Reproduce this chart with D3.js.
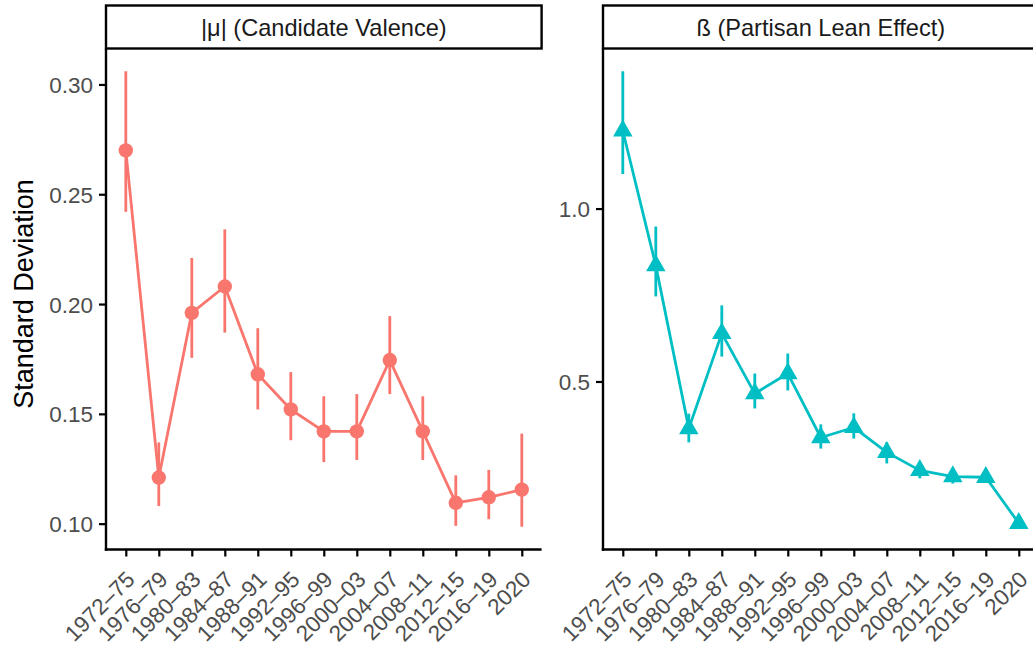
<!DOCTYPE html>
<html>
<head>
<meta charset="utf-8">
<script src="https://cdn.jsdelivr.net/npm/d3@7"></script>
<style>
  html, body { margin: 0; padding: 0; background: #fff; }
  svg { display: block; font-family: "Liberation Sans", Arial, Helvetica, sans-serif; }
</style>
</head>
<body>
<svg id="chart" width="1033" height="645"></svg>
<script>
// ---------------- data ----------------
const categories = ["1972–75","1976–79","1980–83","1984–87","1988–91","1992–95","1996–99","2000–03","2004–07","2008–11","2012–15","2016–19","2020"];

const valenceTitle = "|μ| (Candidate Valence)";
const valenceSD    = [0.270, 0.121, 0.196, 0.208, 0.168, 0.152, 0.142, 0.142, 0.1745, 0.142, 0.1095, 0.112, 0.1155];
const valenceLower = [0.242, 0.108, 0.1755, 0.187, 0.152, 0.138, 0.128, 0.129, 0.159, 0.129, 0.099, 0.102, 0.0986];
const valenceUpper = [0.306, 0.137, 0.221, 0.234, 0.189, 0.169, 0.158, 0.159, 0.1945, 0.158, 0.122, 0.1245, 0.141];
const valenceTicks = [0.10, 0.15, 0.20, 0.25, 0.30];

const leanTitle = "ß (Partisan Lean Effect)";
const leanSD    = [1.225, 0.835, 0.364, 0.639, 0.465, 0.523, 0.338, 0.367, 0.295, 0.243, 0.225, 0.223, 0.090];
const leanLower = [1.100, 0.746, 0.324, 0.572, 0.422, 0.474, 0.306, 0.335, 0.263, 0.220, 0.205, 0.210, 0.080];
const leanUpper = [1.397, 0.948, 0.407, 0.720, 0.523, 0.581, 0.376, 0.408, 0.324, 0.266, 0.246, 0.236, 0.100];
const leanTicks = [0.5, 1.0];

const yAxisTitle = "Standard Deviation";

// ---------------- layout ----------------
const svg = d3.select("#chart");
const plotTop = 48.5, plotBottom = 549.5;
const stripTop = 5.5;
const panelWidth = 435.6;
const tickFont = 22.5, stripFont = 23.6, titleFont = 27;
const axisColor = "#000", tickTextColor = "#4D4D4D";

function drawPanel(opts) {
  const g = svg.append("g");
  const left = opts.left, right = opts.left + panelWidth;
  const x = d3.scalePoint().domain(categories).range([left, right]).padding(0.6);
  const lo = d3.min(opts.lower), hi = d3.max(opts.upper);
  const pad = 0.05 * (hi - lo);
  const y = d3.scaleLinear().domain([lo - pad, hi + pad]).range([plotBottom, plotTop]);

  // strip
  g.append("rect")
    .attr("x", left).attr("y", stripTop)
    .attr("width", panelWidth).attr("height", plotTop - stripTop)
    .attr("fill", "#fff").attr("stroke", "#000").attr("stroke-width", 2.4);
  g.append("text")
    .attr("x", (left + right) / 2).attr("y", (stripTop + plotTop) / 2)
    .attr("dy", "0.38em")
    .attr("text-anchor", "middle")
    .attr("font-size", stripFont).attr("fill", "#1A1A1A")
    .text(opts.title);

  // y axis
  const yAxis = g.append("g")
    .attr("transform", `translate(${left},0)`)
    .call(d3.axisLeft(y).tickValues(opts.ticks).tickFormat(d3.format(opts.fmt)).tickSize(7).tickPadding(6));
  // x axis
  const xAxis = g.append("g")
    .attr("transform", `translate(0,${plotBottom})`)
    .call(d3.axisBottom(x).tickSize(7).tickPadding(3));
  [yAxis, xAxis].forEach(a => {
    a.select(".domain").remove();
    a.selectAll(".tick line").attr("stroke", axisColor).attr("stroke-width", 2.2);
    a.selectAll(".tick text").attr("fill", tickTextColor).attr("font-size", tickFont)
      .attr("font-family", "'Liberation Sans', Arial, sans-serif");
  });
  yAxis.selectAll(".tick text").attr("dy", "0.36em");
  xAxis.selectAll(".tick text")
    .attr("text-anchor", "end")
    .attr("dy", "0.71em")
    .attr("transform", "translate(-1.5,20) rotate(-45)")
    .attr("y", 0).attr("x", 0);
  // axis lines
  g.append("line").attr("x1", left).attr("x2", left).attr("y1", plotTop).attr("y2", plotBottom + 1.2)
    .attr("stroke", axisColor).attr("stroke-width", 2.4);
  g.append("line").attr("x1", left - 1.2).attr("x2", right).attr("y1", plotBottom).attr("y2", plotBottom)
    .attr("stroke", axisColor).attr("stroke-width", 2.4);

  // error bars
  g.append("g").selectAll("line").data(categories).join("line")
    .attr("x1", d => x(d)).attr("x2", d => x(d))
    .attr("y1", (d, i) => y(opts.lower[i])).attr("y2", (d, i) => y(opts.upper[i]))
    .attr("stroke", opts.color).attr("stroke-width", 2.8);
  // line
  g.append("path")
    .datum(categories)
    .attr("d", d3.line().x(d => x(d)).y((d, i) => y(opts.values[i])))
    .attr("fill", "none").attr("stroke", opts.color).attr("stroke-width", 2.8)
    .attr("stroke-linejoin", "round");
  // points
  const pts = g.append("g").selectAll("path").data(categories).join("path")
    .attr("transform", (d, i) => `translate(${x(d)},${y(opts.values[i])})`)
    .attr("fill", opts.color);
  if (opts.shape === "circle") {
    pts.attr("d", d3.symbol().type(d3.symbolCircle).size(Math.PI * 7.2 * 7.2));
  } else {
    const s = 19.5, r = s / Math.sqrt(3);
    pts.attr("d", `M0,${-r}L${s/2},${r/2}L${-s/2},${r/2}Z`);
  }
}

drawPanel({ left: 106, title: valenceTitle, values: valenceSD, lower: valenceLower, upper: valenceUpper,
  ticks: valenceTicks, fmt: ".2f", color: "#F8766D", shape: "circle" });
drawPanel({ left: 603, title: leanTitle, values: leanSD, lower: leanLower, upper: leanUpper,
  ticks: leanTicks, fmt: ".1f", color: "#00BFC4", shape: "triangle" });

// y axis title
svg.append("text")
  .attr("transform", `translate(33,294) rotate(-90)`)
  .attr("text-anchor", "middle")
  .attr("font-size", titleFont).attr("fill", "#000")
  .text(yAxisTitle);
</script>
</body>
</html>
